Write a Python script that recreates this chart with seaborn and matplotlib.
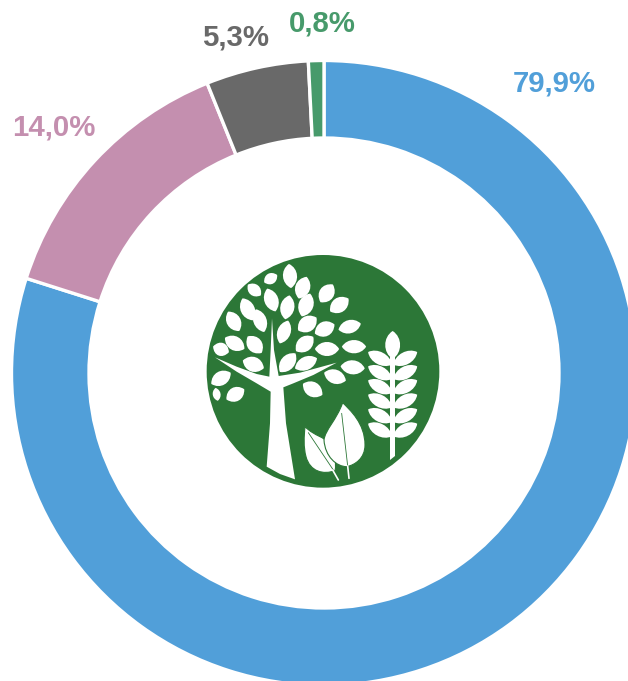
## donut chart with the tree logo in the middle

import matplotlib
matplotlib.use("Agg")
import matplotlib.pyplot as plt
from matplotlib.patches import Circle, PathPatch, Polygon
from matplotlib.path import Path
from matplotlib.transforms import Affine2D
import seaborn as sns

sns.set_theme(style="white")
plt.rcParams["font.family"] = ["Liberation Sans", "DejaVu Sans"]

categories = ["blue", "pink", "grey", "green"]
shares = [79.9, 14.0, 5.3, 0.8]
slice_colors = ["#519FD9", "#C48FAF", "#696969", "#479A6B"]
label_x = [554.5, 54, 235.5, 322]
label_y = [83, 128, 38, 24]

logo_green = "#2C7737"

## leaf x, y, length, width, angle, in pixels of a 720 box around the logo
tree_leaves = [
    (270, 78, 65, 36, 85), (308, 113, 62, 38, -70), (212, 86, 40, 28, -30),
    (163, 120, 45, 30, 40), (214, 150, 65, 36, 70), (262, 172, 65, 36, -80),
    (318, 165, 65, 38, -70), (380, 130, 58, 38, -55), (418, 165, 60, 38, -35),
    (143, 178, 65, 36, 65), (101, 214, 60, 36, 60), (180, 212, 65, 34, 70),
    (252, 246, 65, 34, -70), (322, 222, 60, 40, -35), (374, 237, 58, 38, -25),
    (449, 230, 62, 34, -15), (104, 280, 60, 36, 30), (164, 284, 58, 38, 50),
    (63, 298, 45, 34, 20), (314, 282, 60, 38, -40), (381, 297, 65, 36, 0),
    (462, 290, 65, 34, 0), (160, 343, 60, 38, 20), (263, 338, 65, 36, -50),
    (318, 340, 65, 34, -25), (458, 352, 65, 36, 5), (405, 380, 62, 36, 20),
    (338, 418, 60, 38, 30), (63, 385, 60, 36, -30), (106, 433, 55, 36, -30),
    (50, 433, 35, 20, 80),
]
wheat_rows = [325, 368, 410, 453, 497, 540]
trunk = [
    (216, 205), (222, 300), (236, 378), (300, 368), (410, 338), (340, 375),
    (280, 400), (250, 412), (258, 520), (285, 688), (240, 672), (200, 650),
    (210, 520), (212, 425), (170, 400), (110, 365), (45, 322), (110, 350),
    (170, 372), (208, 380), (212, 300),
]


def add_leaf(ax, x, y, length, width, angle):
    ## pointed leaf, two curves from tip to tip, rounded in the middle
    h = length / 2 * 1.12
    w = width * 0.68 * 1.15
    verts = [(-h, 0), (-h * 0.55, -w), (h * 0.55, -w), (h, 0),
             (h * 0.55, w), (-h * 0.55, w), (-h, 0)]
    codes = [Path.MOVETO] + [Path.CURVE4] * 6
    tr = Affine2D().rotate_deg(angle).translate(x, y) + ax.transData
    ax.add_patch(PathPatch(Path(verts, codes), fc="white", ec="none", transform=tr))


fig = plt.figure(figsize=(6.28, 6.81), dpi=100)
ax = fig.add_axes([0, 0, 1, 1])

ax.pie(shares,
       colors=slice_colors,
       startangle=90,
       counterclock=False,
       center=(324, 308),
       radius=312.5,
       frame=True,
       wedgeprops={"width": 77.5, "edgecolor": "white", "linewidth": 2.4})
ax.set_xlim(0, 628)
ax.set_ylim(0, 681)
ax.set_aspect("equal")
ax.set_axis_off()

for share, color, x, y in zip(shares, slice_colors, label_x, label_y):
    ax.text(x, 681 - y, "{:.1f}%".format(share).replace(".", ","),
            color=color, fontsize=21.2, fontweight="bold",
            ha="center", va="center")

## logo axes, y runs downwards
logo = fig.add_axes([200 / 628, (681 - 490) / 681, 240 / 628, 240 / 681])
logo.set_xlim(0, 720)
logo.set_ylim(720, 0)
logo.set_axis_off()
logo.add_patch(Circle((369, 364), 349, fc=logo_green, ec="none"))

for leaf in tree_leaves:
    add_leaf(logo, *leaf)
logo.add_patch(Polygon(trunk, closed=True, fc="white", ec="none"))

## wheat
logo.add_patch(Polygon([(570, 320), (585, 320), (585, 618), (570, 630)],
                       closed=True, fc="white", ec="none"))
add_leaf(logo, 578, 285, 75, 38, 90)
for row in wheat_rows:
    add_leaf(logo, 540, row, 72, 32, 28)
    add_leaf(logo, 616, row, 72, 32, -28)

## two leaves at the bottom
big_leaf = [(428, 458), (450, 480), (495, 520), (495, 585),
            (495, 625), (465, 645), (440, 650),
            (410, 650), (375, 620), (372, 570),
            (375, 540), (410, 510), (428, 458)]
small_leaf = [(315, 530), (345, 560), (375, 560), (385, 580),
              (405, 620), (410, 640), (405, 662),
              (370, 675), (330, 665), (318, 620),
              (310, 590), (312, 560), (315, 530)]
leaf_codes = [Path.MOVETO] + [Path.CURVE4] * 12
logo.add_patch(PathPatch(Path(small_leaf, leaf_codes), fc="white", ec=logo_green, lw=0.8))
logo.add_patch(PathPatch(Path(big_leaf, leaf_codes), fc="white", ec=logo_green, lw=0.8))
logo.plot([325, 400], [548, 660], color=logo_green, lw=0.6)
logo.plot([425, 443], [490, 648], color=logo_green, lw=0.6)
logo.plot([398, 415], [660, 690], color="white", lw=1.2)
logo.plot([443, 447], [648, 685], color="white", lw=1.2)

plt.savefig("out.png", dpi=100)
